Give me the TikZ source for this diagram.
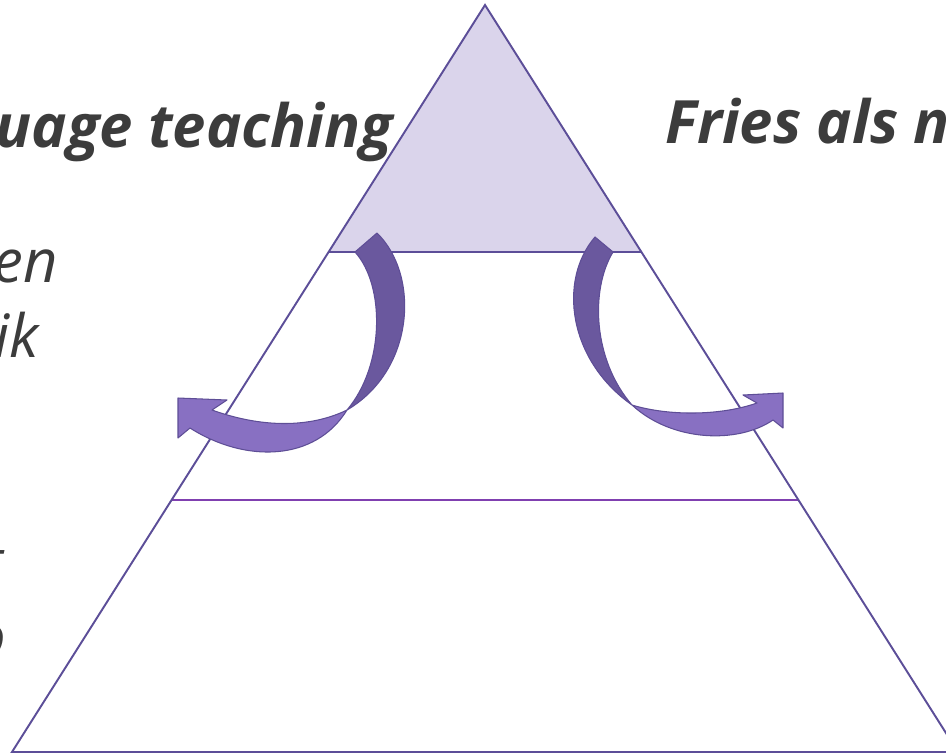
\documentclass[tikz,border=0pt]{standalone}
\usepackage{fontspec}
\setmainfont{Open Sans}
\usepackage{tikz}
\usetikzlibrary{positioning}
\definecolor{PyramidLine}{RGB}{92, 78, 152}
\definecolor{PyramidFill}{RGB}{218, 212, 235}
\definecolor{MidLine}{RGB}{128, 64, 176}
\definecolor{ArrowDark}{RGB}{106, 88, 158}
\definecolor{ArrowLight}{RGB}{136, 112, 194}
\definecolor{ArrowEdge}{RGB}{94, 78, 150}
\definecolor{TextGray}{RGB}{60, 60, 60}
\tikzset{
  pyramid/.style={draw=PyramidLine, line width=1.1pt, line join=miter},
  heading/.style={text=TextGray, font=\fontsize{34}{40}\selectfont\bfseries\itshape, inner sep=0pt},
  bodytext/.style={text=TextGray, font=\fontsize{34}{40}\selectfont\itshape, inner sep=0pt},
  arrowback/.style={fill=ArrowDark, draw=ArrowEdge, line width=0.6pt, line join=round},
  arrowfront/.style={fill=ArrowLight, draw=ArrowEdge, line width=0.6pt, line join=round}
}

\begin{document}
\begin{tikzpicture}[x=0.02cm, y=-0.02cm]
  \useasboundingbox (0,0) rectangle (946,755);
  \clip (0,0) rectangle (946,755);
  % pyramid corners
  \coordinate (top) at (485,5);
  \coordinate (baseL) at (12,752);
  \coordinate (baseR) at (958,752);
  \coordinate (upL) at (328.6,252);
  \coordinate (upR) at (641.4,252);
  \coordinate (midL) at (171.6,500);
  \coordinate (midR) at (798.4,500);

  \fill[PyramidFill] (top) -- (upL) -- (upR) -- cycle;
  \draw[MidLine, line width=0.6pt] (midL) -- (midR);
  \draw[pyramid] (upL) -- (upR);
  \draw[pyramid] (top) -- (baseL) -- (baseR) -- cycle;

  % titles
  \node[heading, anchor=base east] (leftTitle) at (393,147) {uage teaching};
  \node[heading, anchor=base west] (rightTitle) at (665,143) {Fries als n};

  % left column
  \node[bodytext, anchor=base east] (lineOne) at (58,282) {en};
  \node[bodytext, anchor=base east] (lineTwo) at (39,357) {ik};
  \node[bodytext, anchor=base east] (lineThree) at (4,582) {t};
  \node[bodytext, anchor=base east] (lineFour) at (6,657) {o};

  % left curved arrow
  \draw[arrowfront] (347,410) .. controls (315,462) and (245,463) .. (190,428)
    -- (178,438) -- (178,398) -- (227,400) -- (212,410)
    .. controls (262,428) and (310,428) .. (347,410) -- cycle;
  \draw[arrowback] (377,233) .. controls (420,275) and (415,370) .. (347,410)
    .. controls (385,365) and (385,285) .. (355,252) -- cycle;

  % right curved arrow
  \draw[arrowfront] (632,405) .. controls (672,442) and (738,444) .. (773,420)
    -- (783,428) -- (783,393) -- (743,395) -- (757,403)
    .. controls (720,416) and (668,416) .. (632,405) -- cycle;
  \draw[arrowback] (595,237) .. controls (558,280) and (568,360) .. (632,405)
    .. controls (593,360) and (590,290) .. (613,252) -- cycle;
\end{tikzpicture}
\end{document}
